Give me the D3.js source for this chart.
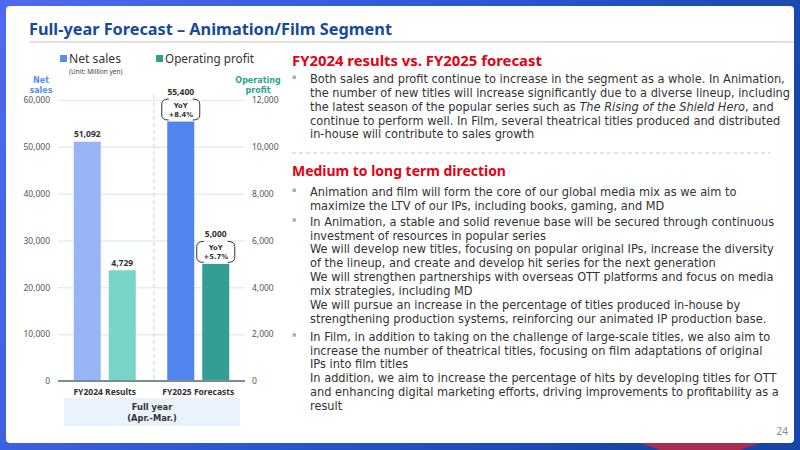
<!DOCTYPE html>
<html><head><meta charset="utf-8">
<script src="https://cdn.jsdelivr.net/npm/d3@7"></script>
<style>html,body{margin:0;padding:0;background:#fff;}svg{display:block;}</style>
</head><body>
<svg id="c" width="800" height="450"></svg>
<script>
// ---------- data ----------
const categories = ["FY2024 Results", "FY2025 Forecasts"];
const seriesNames = ["Net sales", "Operating profit"];
const netSales = [51092, 55400];
const operatingProfit = [4729, 5000];
const netSalesYoY = [null, "+8.4%"];
const operatingProfitYoY = [null, "+5.7%"];
const leftTicks = [0, 10000, 20000, 30000, 40000, 50000, 60000];
const rightTicks = [0, 2000, 4000, 6000, 8000, 10000, 12000];
const titleText = "Full-year Forecast \u2013 Animation/Film Segment";
const heading1 = "FY2024 results vs. FY2025 forecast";
const heading2 = "Medium to long term direction";
const bullets1 = [
  ["Both sales and profit continue to increase in the segment as a whole. In Animation,",
   "the number of new titles will increase significantly due to a diverse lineup, including",
   "the latest season of the popular series such as |The Rising of the Shield Hero|, and",
   "continue to perform well. In Film, several theatrical titles produced and distributed",
   "in-house will contribute to sales growth"]
];
const bullets2 = [
  ["Animation and film will form the core of our global media mix as we aim to",
   "maximize the LTV of our IPs, including books, gaming, and MD"],
  ["In Animation, a stable and solid revenue base will be secured through continuous",
   "investment of resources in popular series",
   "We will develop new titles, focusing on popular original IPs, increase the diversity",
   "of the lineup, and create and develop hit series for the next generation",
   "We will strengthen partnerships with overseas OTT platforms and focus on media",
   "mix strategies, including MD",
   "We will pursue an increase in the percentage of titles produced in-house by",
   "strengthening production systems, reinforcing our animated IP production base."],
  ["In Film, in addition to taking on the challenge of large-scale titles, we also aim to",
   "increase the number of theatrical titles, focusing on film adaptations of original",
   "IPs into film titles",
   "In addition, we aim to increase the percentage of hits by developing titles for OTT",
   "and enhancing digital marketing efforts, driving improvements to profitability as a",
   "result"]
];

// ---------- setup ----------
const svg = d3.select("#c");
const FONT = "'Noto Sans', 'DejaVu Sans', sans-serif";
const VFONT = "'DejaVu Sans', 'Noto Sans', sans-serif";
const defs = svg.append("defs");
const bg = defs.append("linearGradient").attr("id","bg").attr("x1","0").attr("x2","1").attr("y1","0").attr("y2","0.3");
bg.append("stop").attr("offset","0").attr("stop-color","#4f6af0");
bg.append("stop").attr("offset","0.55").attr("stop-color","#2a58d0");
bg.append("stop").attr("offset","1").attr("stop-color","#1746a8");
svg.append("rect").attr("width",800).attr("height",450).attr("fill","url(#bg)");
svg.append("polygon").attr("points","640,443 760,443 740,450 660,450").attr("fill","#d0283c").attr("opacity",0.8);
svg.append("rect").attr("x",6).attr("y",6).attr("width",788).attr("height",437).attr("rx",4).attr("fill","#fff");

function fit(sel, w) {
  const node = sel.node();
  const fs = parseFloat(sel.attr("font-size"));
  const len = node.getComputedTextLength();
  if (len > 0) sel.attr("font-size", (fs * w / len).toFixed(2));
  return sel;
}

// title
fit(svg.append("text").attr("x",29).attr("y",35).attr("font-family",FONT).attr("font-weight","bold")
  .attr("font-size",17).attr("fill","#174a9c").text(titleText), 363);
svg.append("rect").attr("x",29).attr("y",41).attr("width",765).attr("height",2).attr("fill","#e0e0e0");

// ---------- chart ----------
const y0 = 381, yTop = 100;
const yL = d3.scaleLinear().domain([0,60000]).range([y0,yTop]);
const yR = d3.scaleLinear().domain([0,12000]).range([y0,yTop]);
const x0 = d3.scaleBand().domain(categories).range([58,245]).paddingInner(0).paddingOuter(0);
const x1 = d3.scaleBand().domain(seriesNames).range([-31,31]).paddingInner(2-62/35).paddingOuter(0);
const colors = {
  "Net sales": ["#97b4f6", "#5184ef"],
  "Operating profit": ["#79d5c7", "#329e94"]
};
const legendColors = {"Net sales":"#5b8def","Operating profit":"#2e9e8f"};

const gAxL = svg.append("g").attr("transform","translate(58,0)")
  .call(d3.axisLeft(yL).tickValues(leftTicks).tickFormat(d3.format(",")).tickSize(-187).tickPadding(8));
gAxL.select(".domain").remove();
gAxL.selectAll(".tick line").attr("stroke","#e2eff1").attr("stroke-width",1.5);
gAxL.selectAll(".tick text").attr("font-family",FONT).attr("font-size",8.5).attr("fill","#555");
const gAxR = svg.append("g").attr("transform","translate(245,0)")
  .call(d3.axisRight(yR).tickValues(rightTicks).tickFormat(d3.format(",")).tickSize(0).tickPadding(7));
gAxR.select(".domain").remove();
gAxR.selectAll(".tick text").attr("font-family",FONT).attr("font-size",8.5).attr("fill","#555");

// divider
svg.append("line").attr("x1",154).attr("x2",154).attr("y1",95).attr("y2",y0)
  .attr("stroke","#d4d4d4").attr("stroke-width",1.2).attr("stroke-dasharray","4,3");

const rows = [];
categories.forEach((c,i)=>{
  rows.push({cat:c, i, s:"Net sales", v:netSales[i], y:yL(netSales[i]), yoy:netSalesYoY[i]});
  rows.push({cat:c, i, s:"Operating profit", v:operatingProfit[i], y:yR(operatingProfit[i]), yoy:operatingProfitYoY[i]});
});
const bw = x1.bandwidth();
svg.append("g").selectAll("rect").data(rows).join("rect")
  .attr("x", d=>x0(d.cat)+x0.bandwidth()/2+x1(d.s))
  .attr("y", d=>d.y).attr("width", bw).attr("height", d=>y0-d.y)
  .attr("fill", d=>colors[d.s][d.i]);

// axis base line
svg.append("line").attr("x1",58).attr("x2",245).attr("y1",y0).attr("y2",y0).attr("stroke","#7f8c8d").attr("stroke-width",2);

// value labels and YoY boxes
rows.forEach(d=>{
  const cx = x0(d.cat)+x0.bandwidth()/2+x1(d.s)+bw/2;
  let top = d.y;
  if (d.yoy) {
    const bh = 21, bwid = 38, by = d.y - 1.5 - bh, bx = cx - bwid/2, r = 5;
    const p = d3.path();
    p.moveTo(bx+r+2, by); p.quadraticCurveTo(bx, by, bx, by+r); p.lineTo(bx, by+bh-r); p.quadraticCurveTo(bx, by+bh, bx+r+2, by+bh);
    p.moveTo(bx+bwid-r-2, by); p.quadraticCurveTo(bx+bwid, by, bx+bwid, by+r); p.lineTo(bx+bwid, by+bh-r); p.quadraticCurveTo(bx+bwid, by+bh, bx+bwid-r-2, by+bh);
    svg.append("path").attr("d", p.toString()).attr("fill","none").attr("stroke","#333").attr("stroke-width",1);
    svg.append("text").attr("x",cx).attr("y",by+8.8).attr("text-anchor","middle").attr("font-family",VFONT)
      .attr("font-weight","bold").attr("font-size",6.8).attr("fill","#333").text("YoY");
    svg.append("text").attr("x",cx).attr("y",by+17.6).attr("text-anchor","middle").attr("font-family",VFONT)
      .attr("font-weight","bold").attr("font-size",6.8).attr("fill","#333").text(d.yoy);
    top = by;
  }
  svg.append("text").attr("x",cx).attr("y",top-4.5).attr("text-anchor","middle").attr("font-family",FONT)
    .attr("font-weight","bold").attr("font-size",8.5).attr("fill","#333").text(d3.format(",")(d.v));
});

// category labels
svg.append("g").selectAll("text").data(categories).join("text")
  .attr("x", d=>x0(d)+x0.bandwidth()/2).attr("y",395).attr("text-anchor","middle")
  .attr("font-family",FONT).attr("font-weight","bold").attr("font-size",8.5).attr("fill","#333").text(d=>d);
svg.append("rect").attr("x",64).attr("y",398).attr("width",176).attr("height",28).attr("fill","#eaf2fb");
svg.append("text").attr("x",152).attr("y",410.3).attr("text-anchor","middle").attr("font-family",VFONT)
  .attr("font-weight","bold").attr("font-size",8.3).attr("fill","#333").text("Full year");
svg.append("text").attr("x",152).attr("y",420.8).attr("text-anchor","middle").attr("font-family",VFONT)
  .attr("font-weight","bold").attr("font-size",8.3).attr("fill","#333").text("(Apr.-Mar.)");

// axis titles
[["Net",82.5],["sales",92.5]].forEach(([t,y])=>svg.append("text").attr("x",41).attr("y",y).attr("text-anchor","middle")
  .attr("font-family",VFONT).attr("font-weight","bold").attr("font-size",8).attr("fill","#5b8def").text(t));
[["Operating",82.5],["profit",92.5]].forEach(([t,y])=>svg.append("text").attr("x",258).attr("y",y).attr("text-anchor","middle")
  .attr("font-family",VFONT).attr("font-weight","bold").attr("font-size",8).attr("fill","#2ba58e").text(t));

// legend
const legX = [60, 156], legW = [52, 89];
seriesNames.forEach((s,i)=>{
  svg.append("rect").attr("x",legX[i]).attr("y",55).attr("width",7).attr("height",7).attr("fill",legendColors[s]);
  fit(svg.append("text").attr("x",legX[i]+9).attr("y",63).attr("font-family",FONT).attr("font-size",13).attr("fill","#333").text(s), legW[i]);
});
svg.append("text").attr("x",69).attr("y",74).attr("font-family",FONT).attr("font-size",6.5).attr("fill","#444").text("(Unit: Million yen)");

// ---------- right text ----------
fit(svg.append("text").attr("x",292).attr("y",65.5).attr("font-family",FONT).attr("font-weight","bold")
  .attr("font-size",14).attr("fill","#e60012").text(heading1), 250);
fit(svg.append("text").attr("x",292).attr("y",176).attr("font-family",FONT).attr("font-weight","bold")
  .attr("font-size",14).attr("fill","#e60012").text(heading2), 214);
svg.append("line").attr("x1",292).attr("x2",770).attr("y1",153).attr("y2",153)
  .attr("stroke","#c8c8c8").attr("stroke-width",1).attr("stroke-dasharray","4,3");

// fit body font size from first line
const probe = svg.append("text").attr("font-family",VFONT).attr("font-size",12).text(bullets1[0][0].replace(/\|/g,""));
fit(probe, 475);
const bodyFS = parseFloat(probe.attr("font-size"));
probe.remove();
const LH = 13.85;
function drawBullets(list, starts) {
  list.forEach((lines, bi)=>{
    const yc = starts[bi];
    svg.append("rect").attr("x",292.5).attr("y",yc-3.5).attr("width",3.5).attr("height",3.5).attr("fill","#b0b0b0");
    lines.forEach((ln, li)=>{
      const t = svg.append("text").attr("x",310).attr("y",yc+li*LH+4).attr("font-family",VFONT)
        .attr("font-size",bodyFS).attr("fill","#333");
      ln.split("|").forEach((part, pi)=>{
        t.append("tspan").attr("font-style", pi%2 ? "italic" : "normal").text(part);
      });
    });
  });
}
drawBullets(bullets1, [79]);
drawBullets(bullets2, [192, 221.7, 336.7]);

svg.append("text").attr("x",788).attr("y",435).attr("text-anchor","end").attr("font-family",FONT)
  .attr("font-size",10).attr("fill","#888").text("24");
</script>
</body></html>
